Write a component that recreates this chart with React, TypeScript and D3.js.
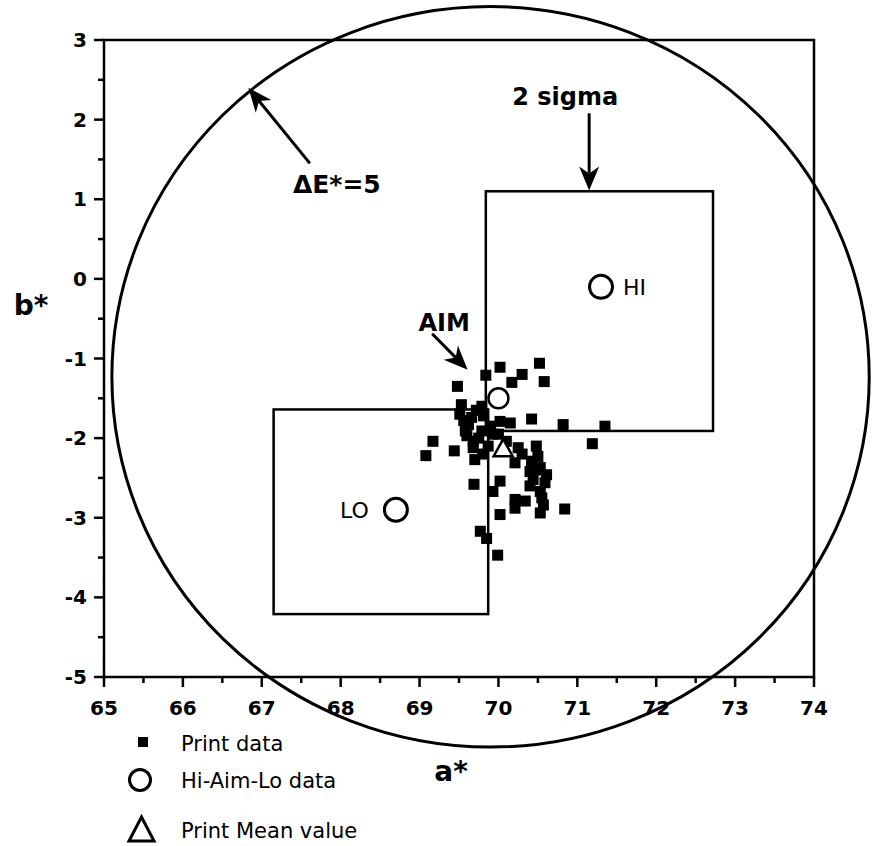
import * as React from 'react';
import * as d3 from 'd3';

const width = 872;
const height = 846;
const plotMargins = { top: 40, left: 104, right: 58, bottom: 169 };

const aTicks = [65, 66, 67, 68, 69, 70, 71, 72, 73, 74];
const bTicks = [-5, -4, -3, -2, -1, 0, 1, 2, 3];
const aMinor = [65.5, 66.5, 67.5, 68.5, 69.5, 70.5, 71.5, 72.5, 73.5];
const bMinor = [-4.5, -3.5, -2.5, -1.5, -0.5, 0.5, 1.5, 2.5];

// print data (a*, b*)
const printData: Array<[number, number]> = [
    [70.52, -1.06], [70.02, -1.11], [70.30, -1.20], [69.84, -1.21], [70.58, -1.29],
    [69.48, -1.35], [70.17, -1.30], [69.53, -1.58], [69.79, -1.60], [69.51, -1.70],
    [69.66, -1.74], [69.81, -1.72], [70.02, -1.79], [70.15, -1.81], [70.42, -1.76],
    [70.82, -1.83], [71.35, -1.85], [71.19, -2.07], [69.17, -2.04], [69.08, -2.22],
    [69.44, -2.16], [69.58, -1.91], [69.68, -2.04], [69.70, -2.27], [69.87, -2.10],
    [70.10, -2.04], [70.25, -2.12], [70.48, -2.10], [70.21, -2.31], [70.40, -2.42],
    [70.53, -2.37], [70.44, -2.52], [70.59, -2.56], [70.53, -2.67], [69.69, -2.58],
    [70.02, -2.54], [69.93, -2.67], [70.21, -2.77], [70.34, -2.79], [70.57, -2.84],
    [70.84, -2.89], [70.53, -2.94], [70.21, -2.88], [70.02, -2.96], [69.77, -3.17],
    [69.85, -3.26], [69.99, -3.47], [69.62, -1.83], [69.79, -1.91], [69.93, -1.95],
    [70.50, -2.23], [70.61, -2.46], [70.42, -2.29], [69.72, -1.65], [69.60, -1.97],
    [69.75, -2.00], [69.90, -1.85], [70.00, -1.95], [69.68, -2.12], [69.80, -2.20],
    [70.30, -2.20], [70.47, -2.40], [70.40, -2.60], [70.55, -2.75], [69.56, -1.78]
];

const hiAimLo = [
    { label: 'HI', a: 71.3, b: -0.1 },
    { label: 'AIM', a: 70.0, b: -1.5 },
    { label: 'LO', a: 68.7, b: -2.9 }
];

const printMean = { a: 70.06, b: -2.12 };

// 2 sigma boxes round HI and LO
const sigmaBoxes = [
    { a0: 69.84, a1: 72.72, b0: -1.91, b1: 1.10 },
    { a0: 67.15, a1: 69.87, b0: -4.21, b1: -1.64 }
];

// drawn Delta E circle (centre and radii in a*/b* units)
const deltaE = { a: 69.9, b: -1.23, ra: 4.8, rb: 4.65 };

const arrows = [
    { label: 'ΔE*=5', from: [67.61, 1.45], to: [66.83, 2.40] },
    { label: '2 sigma', from: [71.15, 2.08], to: [71.15, 1.11] },
    { label: 'AIM', from: [69.16, -0.69], to: [69.61, -1.14] }
];

const legendItems = ['Print data', 'Hi-Aim-Lo data', 'Print Mean value'];

const font = '"DejaVu Sans", Verdana, sans-serif';

function arrowHead(x1: number, y1: number, x2: number, y2: number) {
    const len = Math.hypot(x2 - x1, y2 - y1);
    const ux = (x2 - x1) / len, uy = (y2 - y1) / len;
    const nx = -uy, ny = ux;
    const L = 24, w = 10, notch = 7;
    const p = (d: number, s: number) => [x2 - ux * d + nx * s, y2 - uy * d + ny * s];
    const a = p(L, w), b = p(L - notch, 0), c = p(L, -w);
    return {
        head: `M${x2},${y2}L${a[0]},${a[1]}L${b[0]},${b[1]}L${c[0]},${c[1]}Z`,
        shaftEnd: b
    };
}

function triangle(cx: number, cy: number, w: number, h: number) {
    return `M${cx},${cy - h / 2}L${cx + w / 2},${cy + h / 2}L${cx - w / 2},${cy + h / 2}Z`;
}

export default function App() {
    const x = d3.scaleLinear().domain([65, 74]).range([plotMargins.left, width - plotMargins.right]);
    const y = d3.scaleLinear().domain([-5, 3]).range([height - plotMargins.bottom, plotMargins.top]);

    const x0 = x(65), x1 = x(74), y0 = y(-5), y1 = y(3);

    const labelOffsets: Record<string, { dx: number, dy: number, anchor: string }> = {
        'ΔE*=5': { dx: -17, dy: 30, anchor: 'start' },
        '2 sigma': { dx: -24, dy: -8, anchor: 'middle' },
        'AIM': { dx: 12, dy: -3, anchor: 'middle' }
    };

    return (
        <svg width={width} height={height} style={{ position: 'absolute', left: 0, top: 0, background: '#fff' }}>
            {/* frame */}
            <rect x={x0} y={y1} width={x1 - x0} height={y0 - y1} fill="none" stroke="#000" strokeWidth={2.5} />

            {/* ticks */}
            {aTicks.map(t => (
                <g key={'at' + t}>
                    <line x1={x(t)} x2={x(t)} y1={y0} y2={y0 + 10} stroke="#000" strokeWidth={2.5} />
                    <text x={x(t)} y={y0 + 38} textAnchor="middle" fontFamily={font} fontWeight="bold" fontSize={20}>{t}</text>
                </g>
            ))}
            {aMinor.map(t => (
                <line key={'am' + t} x1={x(t)} x2={x(t)} y1={y0} y2={y0 + 6} stroke="#000" strokeWidth={2.5} />
            ))}
            {bTicks.map(t => (
                <g key={'bt' + t}>
                    <line x1={x0 - 10} x2={x0} y1={y(t)} y2={y(t)} stroke="#000" strokeWidth={2.5} />
                    <text x={x0 - 17} y={y(t) + 7} textAnchor="end" fontFamily={font} fontWeight="bold" fontSize={20}>{t}</text>
                </g>
            ))}
            {bMinor.map(t => (
                <line key={'bm' + t} x1={x0 - 6} x2={x0} y1={y(t)} y2={y(t)} stroke="#000" strokeWidth={2.5} />
            ))}

            {/* axis titles */}
            <text x={x0 - 73} y={y(-0.45)} textAnchor="middle" fontFamily={font} fontWeight="bold" fontSize={28}>b*</text>
            <text x={x(69.4)} y={y0 + 104} textAnchor="middle" fontFamily={font} fontWeight="bold" fontSize={28}>a*</text>

            {/* delta E circle */}
            <ellipse cx={x(deltaE.a)} cy={y(deltaE.b)} rx={x(65 + deltaE.ra) - x(65)} ry={y(-5) - y(-5 + deltaE.rb)}
                fill="none" stroke="#000" strokeWidth={3} />

            {/* print data */}
            {printData.map((d, i) => (
                <rect key={i} x={x(d[0]) - 5.5} y={y(d[1]) - 5.5} width={11} height={11} fill="#000" />
            ))}

            {/* 2 sigma boxes */}
            {sigmaBoxes.map((bx, i) => (
                <rect key={i} x={x(bx.a0)} y={y(bx.b1)} width={x(bx.a1) - x(bx.a0)} height={y(bx.b0) - y(bx.b1)}
                    fill="none" stroke="#000" strokeWidth={2.5} />
            ))}

            {/* hi aim lo */}
            {hiAimLo.map(d => (
                <circle key={d.label} cx={x(d.a)} cy={y(d.b)} r={d.label === 'AIM' ? 10 : 11.5}
                    fill="#fff" stroke="#000" strokeWidth={d.label === 'AIM' ? 2.5 : 3} />
            ))}
            <text x={x(71.3) + 22} y={y(-0.1) + 8} fontFamily={font} fontSize={22}>HI</text>
            <text x={x(68.7) - 27} y={y(-2.9) + 8} textAnchor="end" fontFamily={font} fontSize={22}>LO</text>

            {/* mean */}
            <path d={triangle(x(printMean.a), y(printMean.b), 19, 17)} fill="#fff" stroke="#000" strokeWidth={2.5} />

            {/* annotations */}
            {arrows.map(ar => {
                const tx = x(ar.from[0]), ty = y(ar.from[1]);
                const hx = x(ar.to[0]), hy = y(ar.to[1]);
                const h = arrowHead(tx, ty, hx, hy);
                const o = labelOffsets[ar.label];
                return (
                    <g key={ar.label}>
                        <line x1={tx} y1={ty} x2={h.shaftEnd[0]} y2={h.shaftEnd[1]} stroke="#000" strokeWidth={3} />
                        <path d={h.head} fill="#000" />
                        <text x={tx + o.dx} y={ty + o.dy} textAnchor={o.anchor} fontFamily={font} fontWeight="bold" fontSize={ar.label === 'ΔE*=5' ? 25 : 24}>{ar.label}</text>
                    </g>
                );
            })}

            {/* legend */}
            <g fontFamily={font} fontSize={21}>
                <rect x={138} y={737} width={10} height={10} fill="#000" />
                <text x={181} y={751}>{legendItems[0]}</text>
                <circle cx={140} cy={780} r={10.5} fill="none" stroke="#000" strokeWidth={3} />
                <text x={181} y={788}>{legendItems[1]}</text>
                <path d={triangle(141.5, 829, 25, 24)} fill="none" stroke="#000" strokeWidth={3} />
                <text x={181} y={838}>{legendItems[2]}</text>
            </g>
        </svg>
    );
}
